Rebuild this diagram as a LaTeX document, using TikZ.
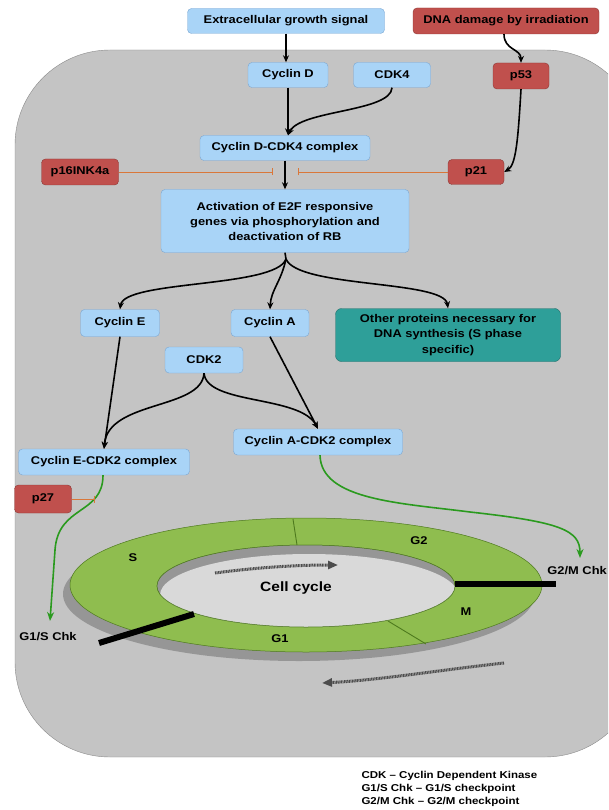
\documentclass[tikz,border=0pt]{standalone}
\usepackage{fontspec}
\setmainfont{Liberation Sans}[FakeStretch=1.15]
\usetikzlibrary{arrows.meta}

\definecolor{cellgray}{HTML}{C4C4C4}
\definecolor{celledge}{HTML}{8A8A8A}
\definecolor{boxblue}{HTML}{A9D4F7}
\definecolor{boxedge}{HTML}{7AA6D2}
\definecolor{boxred}{HTML}{C0504D}
\definecolor{rededge}{HTML}{8C3835}
\definecolor{boxteal}{HTML}{2E9F99}
\definecolor{tealedge}{HTML}{1F6E6A}
\definecolor{inhorange}{HTML}{D9773A}
\definecolor{chkgreen}{HTML}{2A9A1E}
\definecolor{ringgreen}{HTML}{8FBD4F}
\definecolor{ringedge}{HTML}{4E7A1E}
\definecolor{ringside}{HTML}{969696}
\definecolor{holegray}{HTML}{D9D9D9}

\begin{document}
\begin{tikzpicture}[x=1pt,y=-1pt,
  bluebox/.style={draw=boxedge, fill=boxblue, rounded corners=4pt, inner sep=0pt, align=center,
    font=\bfseries\fontsize{11.2}{15}\selectfont},
  redbox/.style={draw=rededge, fill=boxred, rounded corners=4pt, inner sep=0pt, align=center,
    font=\bfseries\fontsize{11.2}{15}\selectfont},
  tealbox/.style={draw=tealedge, fill=boxteal, rounded corners=6pt, inner sep=0pt, align=center,
    font=\bfseries\fontsize{11.2}{15.5}\selectfont},
  act/.style={-{Stealth[length=7pt,width=6pt]}, line width=1.6pt},
  inhib/.style={-{Bar[width=7pt]}, draw=inhorange, line width=0.9pt},
  chk/.style={-{Stealth[length=9pt,width=7pt]}, draw=chkgreen, line width=1.6pt},
  cyc/.style={-{Triangle[length=10pt,width=8pt]}, draw=black!70, line width=3pt,
    dash pattern=on 1pt off 0.6pt},
  lbl/.style={font=\bfseries\fontsize{11.2}{13}\selectfont}]

\clip (0,0) rectangle (608,810);

% cell
\draw [fill=cellgray, draw=celledge, rounded corners=95pt] (15,50) rectangle (640,757);

% ring
\fill [ringside] (299,594) ellipse [x radius=236, y radius=67];
\draw [draw=ringedge, fill=ringgreen, even odd rule, line width=0.5pt]
  (306,585) ellipse [x radius=236, y radius=67]
  (306,586) ellipse [x radius=149, y radius=41];
\begin{scope}
\clip (306,586) ellipse [x radius=149, y radius=41];
\fill [ringside] (306,586) ellipse [x radius=149, y radius=41];
\fill [holegray] (309,595) ellipse [x radius=149, y radius=41];
\end{scope}
\draw [ringedge, line width=0.5pt] (306,586) ellipse [x radius=149, y radius=41];
\draw [ringedge, line width=0.9pt] (293,519) -- (297,545);
\draw [ringedge, line width=0.9pt] (388,621) -- (426,644);
\draw [line width=6pt] (99,643) -- (194,614);
\draw [line width=6pt] (455,584) -- (556,584);

\node [lbl] at (133,558) {S};
\node [lbl] at (419,541) {G2};
\node [lbl] at (466,612) {M};
\node [lbl] at (280,639) {G1};
\node [font=\bfseries\fontsize{13.5}{15}\selectfont] (cc) at (296,588) {Cell cycle};
\node [lbl] (g1sl) at (48,637) {G1/S Chk};
\node [lbl, anchor=east, inner xsep=1pt] (g2ml) at (608,571) {G2/M Chk};

\draw [cyc] (215,573) .. controls (260,567) and (300,565) .. (338,565);
\draw [cyc] (504,663) .. controls (440,670) and (380,680) .. (322,683);

% boxes
\node [bluebox, minimum width=197pt, minimum height=25pt] (egs) at (286,21) {Extracellular growth signal};
\node [redbox, minimum width=186pt, minimum height=26pt] (dna) at (506,21) {DNA damage by irradiation};
\node [bluebox, minimum width=80pt, minimum height=25pt] (cycD) at (288,75) {Cyclin D};
\node [bluebox, minimum width=77pt, minimum height=25pt] (cdk4) at (392,75) {CDK4};
\node [redbox, minimum width=56pt, minimum height=26pt] (p53) at (521,76) {p53};
\node [bluebox, minimum width=170pt, minimum height=25pt] (cdc) at (285,148) {Cyclin D-CDK4 complex};
\node [redbox, minimum width=77pt, minimum height=26pt] (p16) at (80,172) {p16INK4a};
\node [redbox, minimum width=56pt, minimum height=25pt] (p21) at (476,172) {p21};
\node [bluebox, minimum width=248pt, minimum height=63pt] (e2f) at (285,221)
  {Activation of E2F responsive\\genes via phosphorylation and\\deactivation of RB};
\node [bluebox, minimum width=79pt, minimum height=27pt] (cycE) at (120,323) {Cyclin E};
\node [bluebox, minimum width=78pt, minimum height=27pt] (cycA) at (270,323) {Cyclin A};
\node [tealbox, minimum width=225pt, minimum height=53pt] (other) at (448,335)
  {Other proteins necessary for\\DNA synthesis (S phase\\specific)};
\node [bluebox, minimum width=78pt, minimum height=26pt] (cdk2) at (204,360) {CDK2};
\node [bluebox, minimum width=169pt, minimum height=26pt] (acdk) at (318,442) {Cyclin A-CDK2 complex};
\node [bluebox, minimum width=171pt, minimum height=26pt] (ecdk) at (104,462) {Cyclin E-CDK2 complex};
\node [redbox, minimum width=57pt, minimum height=28pt] (p27) at (43,499) {p27};

\coordinate (blkL) at (273,172);
\coordinate (blkR) at (298,172);
\coordinate (br) at (286,259);
\coordinate (p27b) at (95,499);
\coordinate (g1s) at (50,621);
\coordinate (g2m) at (580,558);

% activation
\draw [act] (egs) -- (egs.south |- cycD.north);
\draw [act] ([xshift=-2pt]dna.south) .. controls +(0,16) and +(0,-14) .. (p53.north);
\draw [act] (cycD) -- (cycD.south |- cdc.north);
\draw [act] (cdk4.south) .. controls (391,112) and (300,110) .. (cycD.south |- cdc.north);
\draw [act] (p53.south) .. controls (518,140) and (516,165) .. (p21.east);
\draw [act] (cdc) -- (e2f);
\draw [line width=1.6pt] (e2f.south) -- (br);
\draw [act] (br) .. controls (276,288) and (124,280) .. (cycE.north);
\draw [act] (br) .. controls (281,282) and (271,290) .. (cycA.north);
\draw [act] (br) .. controls (298,288) and (444,280) .. (other.north);
\draw [act] (cycE.south) -- (ecdk.north);
\draw [act] (cdk2.south) .. controls (202,410) and (108,400) .. (ecdk.north);
\draw [act] (cdk2.south) .. controls (207,405) and (300,395) .. (acdk.north);
\draw [act] (cycA.south) -- (acdk.north);

% inhibition
\draw [inhib] (p16) -- (blkL);
\draw [inhib] (p21) -- (blkR);

% checkpoints
\draw [chk] ([xshift=-1pt]ecdk.south) .. controls (103,515) and (58,505) .. (55,550) -- (g1s);
\draw [inhib] (p27) -- (p27b);
\draw [chk] ([xshift=2pt]acdk.south) .. controls (321,500) and (400,503) .. (470,512)
  .. controls (560,522) and (580,530) .. (g2m);

\node [anchor=west, align=left, font=\bfseries\fontsize{10}{13}\selectfont] (legend) at (358,789)
  {CDK -- Cyclin Dependent Kinase\\G1/S Chk -- G1/S checkpoint\\G2/M Chk -- G2/M checkpoint};
\end{tikzpicture}
\end{document}
